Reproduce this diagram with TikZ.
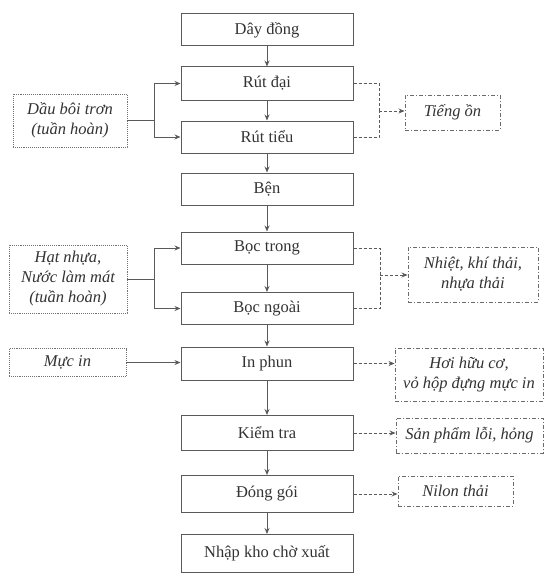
\documentclass[tikz,border=0pt]{standalone}
\usepackage{fontspec}
\setmainfont{Liberation Serif}
\newfontfamily\diagfont{Liberation Serif}
\usetikzlibrary{arrows.meta}
\definecolor{ln}{HTML}{5A5A5A}
\definecolor{tx}{HTML}{333333}
\tikzset{
  base/.style={inner sep=0pt, align=center, text=tx, font=\diagfont\fontsize{16.5}{20}\selectfont},
  mainbox/.style={base, draw=ln, line width=1pt, minimum width=172pt},
  inbox/.style={base, draw=ln!85, line width=0.9pt, densely dotted, font=\diagfont\fontsize{16.5}{20}\selectfont\itshape},
  outbox/.style={base, draw=ln!90, line width=0.9pt, dash pattern=on 4pt off 2pt on 1pt off 2pt, font=\diagfont\fontsize{16.5}{20}\selectfont\itshape},
  flow/.style={draw=ln, line width=0.9pt, -{Stealth[length=6pt,width=5pt]}},
  plain/.style={draw=ln, line width=0.9pt},
  waste/.style={draw=ln, line width=0.9pt, dash pattern=on 3pt off 2pt},
  wastearr/.style={waste, -{Stealth[length=6pt,width=5pt]}}
}
\begin{document}
\begin{tikzpicture}[x=1pt,y=-1pt]
\useasboundingbox[fill=white] (0,0) rectangle (550,586);
% main chain
\node[mainbox, minimum height=32pt] (d1) at (267,30) {Dây đồng};
\node[mainbox, minimum height=33pt] (rd) at (267,83.5) {Rút đại};
\node[mainbox, minimum height=32pt] (rt) at (267,137) {Rút tiểu};
\node[mainbox, minimum height=32pt] (ben) at (267,189) {Bện};
\node[mainbox, minimum height=32pt] (bt) at (267,248) {Bọc trong};
\node[mainbox, minimum height=32pt] (bn) at (267,308.5) {Bọc ngoài};
\node[mainbox, minimum height=33pt] (ip) at (267,363.5) {In phun};
\node[mainbox, minimum height=35pt] (kt) at (267,433) {Kiểm tra};
\node[mainbox, minimum height=37pt] (dg) at (267,494) {Đóng gói};
\node[mainbox, minimum height=38pt] (nk) at (267,553.5) {Nhập kho chờ xuất};
% inputs
\node[inbox, minimum width=114pt, minimum height=53pt] (dau) at (70,120.5) {Dầu bôi trơn\\(tuần hoàn)};
\node[inbox, minimum width=118pt, minimum height=68pt] (hat) at (68,279) {Hạt nhựa,\\Nước làm mát\\(tuần hoàn)};
\node[inbox, minimum width=117pt, minimum height=28pt] (muc) at (67.5,362.5) {Mực in};
% outputs
\node[outbox, minimum width=95pt, minimum height=35pt] (tieng) at (452.5,112.5) {Tiếng ồn};
\node[outbox, minimum width=130pt, minimum height=55pt] (nhiet) at (473,274.5) {Nhiệt, khí thải,\\nhựa thải};
\node[outbox, minimum width=148pt, minimum height=53pt] (hoi) at (469,374.5) {Hơi hữu cơ,\\vỏ hộp đựng mực in};
\node[outbox, minimum width=147pt, minimum height=35pt] (sp) at (469.5,435.5) {Sản phẩm lỗi, hỏng};
\node[outbox, minimum width=115pt, minimum height=30pt] (nil) at (455.5,491) {Nilon thải};
% main flow arrows
\draw[flow] (d1) -- (rd);
\draw[flow] (rd) -- (rt);
\draw[flow] (rt) -- (ben);
\draw[flow] (ben) -- (bt);
\draw[flow] (bt) -- (bn);
\draw[flow] (bn) -- (ip);
\draw[flow] (ip) -- (kt);
\draw[flow] (kt) -- (dg);
\draw[flow] (dg) -- (nk);
% input connectors
\coordinate (j1) at (154,120.5);
\draw[plain] (dau.east) -- (j1);
\draw[flow] (j1) |- (rd.west);
\draw[flow] (j1) |- (rt.west);
\coordinate (j2) at (154,279);
\draw[plain] (hat.east |- j2) -- (j2);
\draw[flow] (j2) |- (bt.west);
\draw[flow] (j2) |- (bn.west);
\draw[flow] (muc.east) -- (muc.east -| ip.west);
% output connectors
\coordinate (c1) at (379,111);
\draw[waste] (rd.east) -| (c1);
\draw[waste] (rt.east) -| (c1);
\draw[wastearr] (c1) -- (c1 -| tieng.west);
\coordinate (c2) at (380,275);
\draw[waste] (bt.east) -| (c2);
\draw[waste] (bn.east) -| (c2);
\draw[wastearr] (c2) -- (c2 -| nhiet.west);
\draw[wastearr] (ip.east) -- (ip.east -| hoi.west);
\draw[wastearr] (kt.east) -- (kt.east -| sp.west);
\draw[wastearr] (dg.east) -- (dg.east -| nil.west);
\end{tikzpicture}
\end{document}
